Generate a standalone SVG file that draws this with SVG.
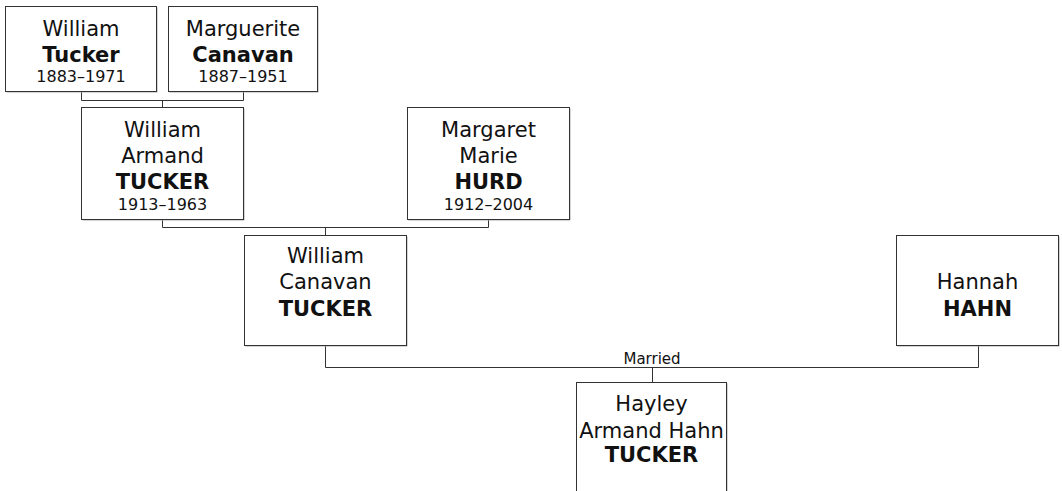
<svg xmlns="http://www.w3.org/2000/svg" width="1062" height="491" viewBox="0 0 1062 491">
<style>
.sh{fill:#aaa;stroke:none}
.box{fill:#fff;stroke:#333;stroke-width:1}
text{font-family:"DejaVu Sans",Verdana,sans-serif;fill:#111;text-anchor:middle}
.n{font-size:21px}
.b{font-size:21px;font-weight:bold}
.y{font-size:16px}
.lbl{font-size:15px}
.c{fill:none;stroke:#333;stroke-width:1}
</style>
<rect width="1062" height="491" fill="#fff"/>
<g id="connectors">
<path class="c" d="M81.5,91.5V100.5H243.5V91.5M162.5,100.5V107.5"/>
<path class="c" d="M162.5,219.5V227.5H488.5V219.5M325.5,227.5V235.5"/>
<path class="c" d="M325.5,345.5V367.5H978.5V345.5M652.5,367.5V382.5"/>
<text class="lbl" x="652" y="364">Married</text>
</g>
<g id="william-tucker">
<rect class="sh" x="6.5" y="7.5" width="151" height="85"/>
<rect class="box" x="5.5" y="6.5" width="151" height="85"/>
<text class="n" x="81" y="36">William</text>
<text class="b" x="81" y="62">Tucker</text>
<text class="y" x="81" y="82">1883–1971</text>
</g>
<g id="marguerite-canavan">
<rect class="sh" x="169.5" y="7.5" width="149" height="85"/>
<rect class="box" x="168.5" y="6.5" width="149" height="85"/>
<text class="n" x="243" y="36">Marguerite</text>
<text class="b" x="243" y="62">Canavan</text>
<text class="y" x="243" y="82">1887–1951</text>
</g>
<g id="william-armand-tucker">
<rect class="sh" x="82.5" y="108.5" width="162" height="112"/>
<rect class="box" x="81.5" y="107.5" width="162" height="112"/>
<text class="n" x="162.5" y="137">William</text>
<text class="n" x="162.5" y="163">Armand</text>
<text class="b" x="162.5" y="189">TUCKER</text>
<text class="y" x="162.5" y="210">1913–1963</text>
</g>
<g id="margaret-marie-hurd">
<rect class="sh" x="408.5" y="108.5" width="162" height="112"/>
<rect class="box" x="407.5" y="107.5" width="162" height="112"/>
<text class="n" x="488.5" y="137">Margaret</text>
<text class="n" x="488.5" y="163">Marie</text>
<text class="b" x="488.5" y="189">HURD</text>
<text class="y" x="488.5" y="210">1912–2004</text>
</g>
<g id="william-canavan-tucker">
<rect class="sh" x="245.5" y="236.5" width="162" height="110"/>
<rect class="box" x="244.5" y="235.5" width="162" height="110"/>
<text class="n" x="325.5" y="263">William</text>
<text class="n" x="325.5" y="289">Canavan</text>
<text class="b" x="325.5" y="316">TUCKER</text>
</g>
<g id="hannah-hahn">
<rect class="sh" x="897.5" y="236.5" width="162" height="110"/>
<rect class="box" x="896.5" y="235.5" width="162" height="110"/>
<text class="n" x="977.5" y="289">Hannah</text>
<text class="b" x="977.5" y="316">HAHN</text>
</g>
<g id="hayley-tucker">
<rect class="sh" x="577.5" y="383.5" width="150" height="140"/>
<rect class="box" x="576.5" y="382.5" width="150" height="140"/>
<text class="n" x="651.5" y="411">Hayley</text>
<text class="n" x="651.5" y="438">Armand Hahn</text>
<text class="b" x="651.5" y="462">TUCKER</text>
</g>
</svg>
